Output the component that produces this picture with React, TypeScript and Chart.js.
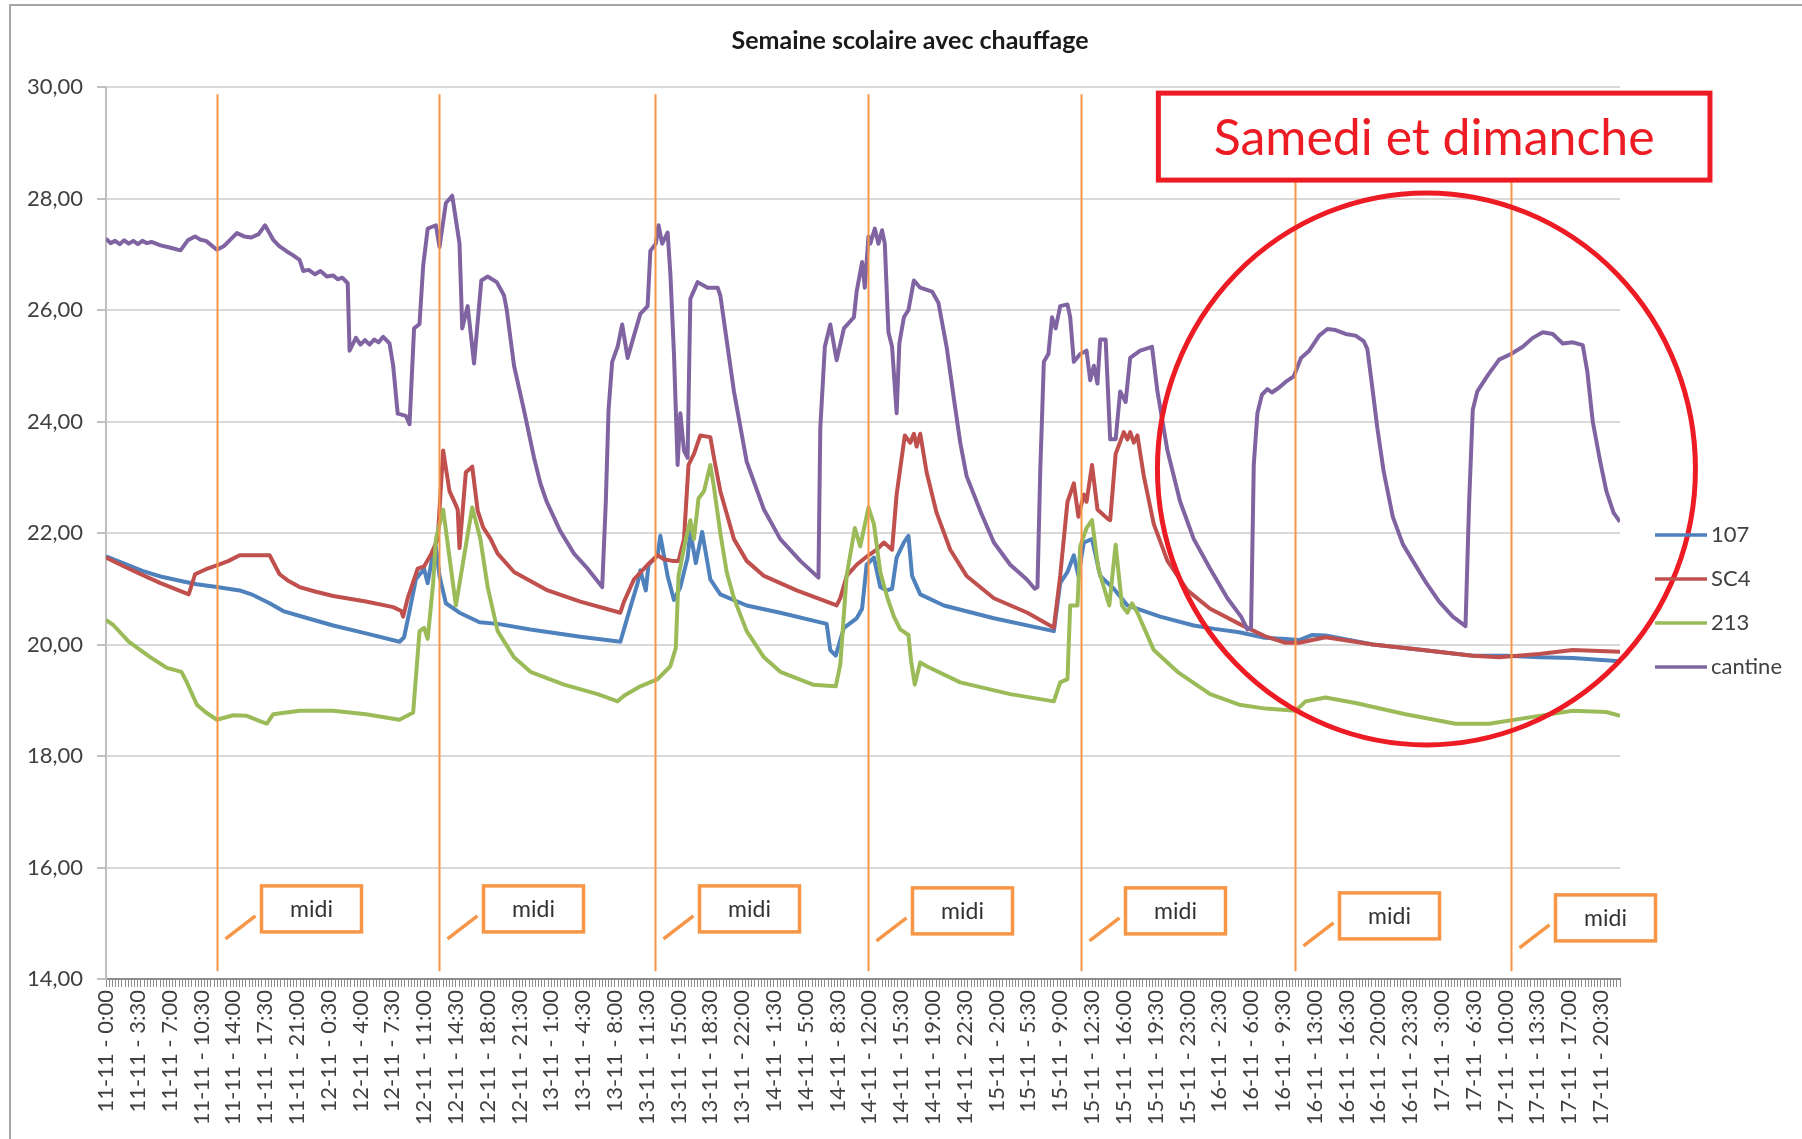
import React, { useEffect, useRef } from "react";
import { Chart, registerables } from "chart.js";

Chart.register(...registerables);

// x tick labels, one every 3h30 starting 11-11 0:00
const tickLabels: string[] = [
  "11-11 - 0:00", "11-11 - 3:30", "11-11 - 7:00", "11-11 - 10:30", "11-11 - 14:00", "11-11 - 17:30", "11-11 - 21:00",
  "12-11 - 0:30", "12-11 - 4:00", "12-11 - 7:30", "12-11 - 11:00", "12-11 - 14:30", "12-11 - 18:00", "12-11 - 21:30",
  "13-11 - 1:00", "13-11 - 4:30", "13-11 - 8:00", "13-11 - 11:30", "13-11 - 15:00", "13-11 - 18:30", "13-11 - 22:00",
  "14-11 - 1:30", "14-11 - 5:00", "14-11 - 8:30", "14-11 - 12:00", "14-11 - 15:30", "14-11 - 19:00", "14-11 - 22:30",
  "15-11 - 2:00", "15-11 - 5:30", "15-11 - 9:00", "15-11 - 12:30", "15-11 - 16:00", "15-11 - 19:30", "15-11 - 23:00",
  "16-11 - 2:30", "16-11 - 6:00", "16-11 - 9:30", "16-11 - 13:00", "16-11 - 16:30", "16-11 - 20:00", "16-11 - 23:30",
  "17-11 - 3:00", "17-11 - 6:30", "17-11 - 10:00", "17-11 - 13:30", "17-11 - 17:00", "17-11 - 20:30",
];

// readings: [hours since 11-11 0:00, temperature °C]
const room107: [number, number][] = [
  [0, 21.58], [2, 21.45], [4, 21.32], [6, 21.22], [8.5, 21.13], [10, 21.08], [12.2, 21.03], [14.7, 20.97], [16, 20.9], [18, 20.74],
  [19.5, 20.6], [22, 20.48], [25, 20.34], [28.6, 20.2], [32.3, 20.05], [32.8, 20.13], [33.4, 20.6], [34.1, 21.17], [35.0, 21.36],
  [35.4, 21.1], [35.9, 21.56], [36.3, 21.76], [36.7, 21.23], [37.4, 20.74], [38.9, 20.57], [41.1, 20.4], [43.1, 20.37], [46.7, 20.27],
  [52.2, 20.14], [56.6, 20.05], [57.4, 20.5], [58.5, 21.1], [58.8, 21.33], [59.4, 20.97], [59.7, 21.43], [60.7, 21.6], [61.0, 21.95],
  [61.8, 21.23], [62.5, 20.8], [63.2, 21.03], [64.0, 21.56], [64.3, 22.02], [64.9, 21.46], [65.6, 22.02], [66.5, 21.17], [67.6, 20.9],
  [70.5, 20.7], [74.2, 20.57], [79.3, 20.37], [79.7, 19.9], [80.3, 19.8], [81.2, 20.3], [82.6, 20.47], [83.2, 20.64], [83.7, 21.43],
  [84.5, 21.56], [85.2, 21.03], [85.9, 20.97], [86.5, 21.0], [87.0, 21.56], [87.8, 21.83], [88.3, 21.95], [88.7, 21.23], [89.6, 20.9],
  [92.2, 20.7], [97.7, 20.47], [104.3, 20.24], [105.0, 21.1], [105.8, 21.3], [106.5, 21.6], [107.0, 21.23], [107.6, 21.83], [108.5, 21.89],
  [109.4, 21.23], [110.9, 21.0], [112.4, 20.7], [116.0, 20.5], [119.7, 20.34], [122, 20.28], [124.7, 20.22], [127.5, 20.12], [129.8, 20.1],
  [131.3, 20.08], [132.7, 20.17], [134.2, 20.16], [139.4, 20.0], [144.9, 19.9], [150.4, 19.8], [154.1, 19.8], [157.7, 19.77], [161.4, 19.76],
  [166.6, 19.7],
];

const roomSC4: [number, number][] = [
  [0, 21.56], [2, 21.4], [4, 21.25], [6, 21.1], [8, 20.97], [9.1, 20.9], [9.8, 21.26], [11, 21.35], [12.2, 21.42], [13.5, 21.5], [14.7, 21.6],
  [18.0, 21.6], [19.1, 21.26], [20, 21.15], [21.3, 21.03], [23, 20.95], [25.0, 20.87], [28.6, 20.77], [31.6, 20.67], [32.5, 20.6], [32.7, 20.5],
  [33.2, 20.83], [34.3, 21.36], [35.0, 21.4], [35.8, 21.63], [36.5, 21.89], [37.1, 23.48], [37.8, 22.75], [38.5, 22.5], [38.7, 22.42],
  [38.9, 21.73], [39.6, 23.09], [40.3, 23.19], [40.9, 22.4], [41.5, 22.1], [42.3, 21.9], [43.1, 21.63], [44.9, 21.3], [48.6, 20.97],
  [52.2, 20.77], [56.6, 20.57], [57.0, 20.77], [58.1, 21.17], [59.6, 21.43], [60.7, 21.6], [61.4, 21.53], [62.3, 21.5], [63.0, 21.5],
  [63.6, 21.89], [64.1, 23.22], [64.7, 23.42], [65.4, 23.75], [66.5, 23.72], [66.9, 23.35], [67.6, 22.75], [69.1, 21.89], [70.5, 21.5],
  [72.4, 21.23], [76.0, 20.97], [80.4, 20.7], [80.8, 20.83], [81.5, 21.23], [82.6, 21.43], [83.9, 21.6], [84.8, 21.7], [85.6, 21.83],
  [86.5, 21.7], [87.0, 22.69], [87.9, 23.75], [88.5, 23.62], [88.9, 23.78], [89.2, 23.55], [89.6, 23.78], [90.3, 23.09], [91.4, 22.36],
  [92.9, 21.7], [94.7, 21.23], [97.7, 20.83], [101.4, 20.57], [104.3, 20.3], [105.0, 21.23], [105.8, 22.56], [106.5, 22.89], [107.0, 22.29],
  [107.6, 22.69], [107.9, 22.56], [108.5, 23.22], [109.1, 22.42], [110.2, 22.26], [110.5, 22.23], [111.1, 23.42], [112.0, 23.81],
  [112.4, 23.68], [112.7, 23.81], [113.1, 23.62], [113.5, 23.75], [114.2, 23.02], [115.3, 22.16], [116.8, 21.5], [119.0, 20.97],
  [121.5, 20.64], [124.7, 20.37], [127.5, 20.15], [129.8, 20.03], [131.3, 20.03], [134.2, 20.13], [139.4, 20.0], [144.9, 19.9],
  [150.4, 19.8], [153.3, 19.77], [157.7, 19.83], [161.4, 19.9], [166.6, 19.87],
];

const room213: [number, number][] = [
  [0, 20.44], [0.8, 20.35], [2.5, 20.05], [4.9, 19.77], [6.7, 19.58], [8.3, 19.51], [8.9, 19.32], [10, 18.92], [11, 18.78], [12.2, 18.65],
  [14, 18.73], [15.5, 18.72], [17.0, 18.62], [17.7, 18.58], [18.4, 18.75], [21.3, 18.81], [25, 18.81], [28.6, 18.75], [32.3, 18.65],
  [33.8, 18.78], [34.5, 20.24], [35.0, 20.3], [35.4, 20.1], [36.0, 21.1], [36.3, 21.89], [37.1, 22.42], [38.5, 20.7], [40.3, 22.46],
  [41.2, 21.89], [42.0, 21.03], [43.1, 20.24], [44.9, 19.77], [46.7, 19.51], [50.4, 19.28], [54.1, 19.11], [56.3, 18.98], [57.0, 19.08],
  [58.8, 19.25], [60.7, 19.38], [62.1, 19.61], [62.7, 19.94], [63.0, 21.23], [63.8, 21.89], [64.3, 22.23], [64.7, 21.89], [65.2, 22.62],
  [65.8, 22.75], [66.5, 23.22], [66.9, 22.82], [67.6, 22.0], [68.3, 21.3], [69.1, 20.83], [70.5, 20.24], [72.4, 19.77], [74.2, 19.51],
  [77.8, 19.28], [80.3, 19.25], [80.8, 19.64], [81.5, 21.23], [82.4, 22.09], [83.0, 21.76], [83.9, 22.46], [84.5, 22.16], [85.2, 21.3],
  [86.0, 20.83], [86.7, 20.5], [87.4, 20.27], [88.3, 20.17], [88.6, 19.7], [89.0, 19.28], [89.6, 19.68], [90.3, 19.61], [94.0, 19.32],
  [99.5, 19.11], [104.3, 18.98], [105.0, 19.32], [105.8, 19.38], [106.1, 20.7], [106.9, 20.7], [107.2, 21.76], [107.9, 22.09],
  [108.5, 22.23], [109.2, 21.36], [110.4, 20.7], [111.1, 21.79], [111.8, 20.7], [112.4, 20.57], [112.9, 20.74], [113.5, 20.57],
  [115.3, 19.9], [117.9, 19.51], [121.5, 19.11], [124.7, 18.92], [127.6, 18.85], [130.9, 18.81], [132.0, 18.98], [134.2, 19.05],
  [137.5, 18.95], [143.0, 18.75], [148.5, 18.58], [152.2, 18.58], [157.7, 18.72], [161.4, 18.81], [165.1, 18.79], [166.6, 18.72],
];

const cantine: [number, number][] = [
  [0, 27.28], [0.5, 27.2], [1, 27.24], [1.5, 27.18], [2, 27.25], [2.5, 27.19], [3, 27.24], [3.5, 27.18], [4, 27.24], [4.5, 27.2],
  [5, 27.22], [6, 27.16], [7, 27.12], [8.2, 27.07], [9, 27.25], [9.8, 27.32], [10.4, 27.26], [11, 27.24], [12.2, 27.08], [13, 27.15],
  [14.4, 27.38], [15.2, 27.32], [16, 27.3], [16.8, 27.36], [17.5, 27.52], [18.4, 27.26], [19.1, 27.14], [19.9, 27.05], [20.6, 26.98],
  [21.3, 26.9], [21.7, 26.7], [22.3, 26.72], [23, 26.64], [23.6, 26.7], [24.3, 26.6], [25.0, 26.62], [25.5, 26.55], [26.0, 26.58],
  [26.6, 26.48], [26.8, 25.27], [27.5, 25.5], [28.0, 25.38], [28.5, 25.46], [29.0, 25.38], [29.5, 25.47], [30.0, 25.42], [30.5, 25.52],
  [31.2, 25.4], [31.6, 25.0], [32.1, 24.14], [33.0, 24.1], [33.4, 23.95], [33.9, 25.67], [34.5, 25.75], [34.9, 26.79], [35.4, 27.46],
  [36.3, 27.52], [36.7, 27.13], [37.4, 27.92], [38.1, 28.05], [38.9, 27.19], [39.2, 25.67], [39.8, 26.07], [40.5, 25.04], [41.3, 26.53],
  [42.0, 26.6], [43.0, 26.5], [43.8, 26.26], [44.1, 26.0], [44.9, 25.0], [46.0, 24.2], [47.1, 23.35], [47.8, 22.89], [48.5, 22.56],
  [50.0, 22.03], [51.5, 21.63], [53.0, 21.36], [54.6, 21.03], [55.0, 22.56], [55.3, 24.21], [55.7, 25.07], [56.3, 25.34], [56.8, 25.74],
  [57.4, 25.14], [58.1, 25.54], [58.8, 25.93], [59.6, 26.07], [59.9, 27.06], [60.5, 27.19], [60.8, 27.52], [61.2, 27.19], [61.8, 27.39],
  [62.1, 26.66], [62.5, 25.21], [62.9, 23.22], [63.2, 24.15], [63.6, 23.48], [64.0, 23.35], [64.3, 26.2], [65.1, 26.5], [66.2, 26.4],
  [67.3, 26.4], [67.6, 26.26], [69.1, 24.54], [70.5, 23.28], [72.4, 22.42], [74.2, 21.89], [76.4, 21.5], [78.4, 21.2], [78.6, 23.88],
  [79.1, 25.34], [79.7, 25.74], [80.4, 25.1], [81.2, 25.67], [82.3, 25.87], [82.6, 26.33], [83.2, 26.86], [83.5, 26.4], [83.9, 27.32],
  [84.1, 27.19], [84.6, 27.46], [85.0, 27.19], [85.4, 27.43], [85.7, 27.19], [86.1, 25.6], [86.5, 25.34], [87.0, 24.15], [87.3, 25.4],
  [87.8, 25.87], [88.3, 26.0], [88.9, 26.53], [89.6, 26.4], [90.9, 26.33], [91.6, 26.13], [92.5, 25.34], [93.3, 24.41], [94.0, 23.62],
  [94.7, 23.02], [95.5, 22.69], [96.3, 22.36], [97.7, 21.83], [99.5, 21.43], [101.3, 21.17], [102.2, 21.0], [102.5, 21.03], [102.8, 23.09],
  [103.2, 25.07], [103.7, 25.21], [104.1, 25.87], [104.5, 25.67], [105.0, 26.07], [105.8, 26.1], [106.1, 25.87], [106.5, 25.07],
  [107.2, 25.21], [107.9, 25.27], [108.3, 24.74], [108.7, 25.0], [109.1, 24.68], [109.4, 25.47], [110.0, 25.47], [110.5, 23.68],
  [111.1, 23.68], [111.6, 24.54], [112.2, 24.35], [112.7, 25.14], [113.8, 25.27], [115.1, 25.34], [115.7, 24.54], [116.8, 23.48],
  [118.2, 22.56], [119.7, 21.89], [121.5, 21.36], [123.4, 20.83], [124.9, 20.5], [125.6, 20.27], [126.0, 20.3], [126.3, 23.22],
  [126.7, 24.15], [127.2, 24.48], [127.8, 24.58], [128.3, 24.52], [129.1, 24.61], [129.8, 24.71], [130.7, 24.81], [131.5, 25.14],
  [132.4, 25.27], [133.5, 25.54], [134.4, 25.66], [135.3, 25.64], [136.4, 25.57], [137.5, 25.54], [138.4, 25.44], [138.8, 25.3],
  [139.4, 24.54], [139.9, 23.88], [140.6, 23.1], [141.6, 22.29], [142.7, 21.8], [143.8, 21.5], [145.3, 21.1], [146.7, 20.77],
  [148.2, 20.5], [149.6, 20.33], [150.0, 22.56], [150.4, 24.21], [150.9, 24.54], [152.1, 24.84], [153.3, 25.11], [154.6, 25.21],
  [155.9, 25.34], [157.0, 25.5], [158.1, 25.6], [159.2, 25.57], [160.3, 25.4], [161.4, 25.42], [162.5, 25.37], [163.0, 24.9],
  [163.6, 24.0], [164.4, 23.3], [165.1, 22.75], [165.9, 22.36], [166.6, 22.2],
];

// hours at which the "midi" markers were drawn
const midiHours: number[] = [12.2, 36.6, 60.4, 83.8, 107.3, 130.8, 154.6];

const X_MAX = 166.6;
const MINOR_STEP = 0.35; // 10 minor ticks per labelled tick (3h30)
const FONT = "Lato";
const ORANGE = "#F79646";
const RED = "#ED1C24";

const seriesDefs = [
  { label: "107", data: room107, color: "#4F81BD" },
  { label: "SC4", data: roomSC4, color: "#C0504D" },
  { label: "213", data: room213, color: "#9BBB59" },
  { label: "cantine", data: cantine, color: "#8064A2" },
];

const overlayPlugin = {
  id: "overlay",
  afterDatasetsDraw(chart: any) {
    const { ctx } = chart;
    const x = chart.scales.x;
    const y = chart.scales.y;
    ctx.save();

    // orange "midi" markers
    const shifts = [0, 0, 0, 2, 2, 7, 9];
    midiHours.forEach((h: number, i: number) => {
      const lx = Math.round(x.getPixelForValue(h)) + 0.5;
      ctx.strokeStyle = ORANGE;
      ctx.lineWidth = 2;
      ctx.beginPath();
      ctx.moveTo(lx, y.getPixelForValue(29.87));
      ctx.lineTo(lx, y.getPixelForValue(14.14));
      ctx.stroke();

      const top = y.getPixelForValue(15.67) + shifts[i];
      const bx = lx + 44;
      ctx.lineWidth = 3.5;
      ctx.fillStyle = "#ffffff";
      ctx.fillRect(bx, top, 100, 46);
      ctx.strokeRect(bx, top, 100, 46);
      ctx.beginPath();
      ctx.moveTo(lx + 8, top + 53);
      ctx.lineTo(lx + 38, top + 30);
      ctx.stroke();
      ctx.fillStyle = "#333333";
      ctx.font = `23px ${FONT}`;
      ctx.textAlign = "center";
      ctx.textBaseline = "middle";
      ctx.fillText("midi", bx + 50, top + 24);
    });

    // weekend highlight
    const cx = x.getPixelForValue(145.3);
    const cy = y.getPixelForValue(23.15);
    ctx.strokeStyle = RED;
    ctx.lineWidth = 5;
    ctx.beginPath();
    ctx.ellipse(cx, cy, 269, 276, 0, 0, Math.PI * 2);
    ctx.stroke();

    const bl = x.getPixelForValue(115.8);
    const br = x.getPixelForValue(176.5);
    const bt = y.getPixelForValue(29.89);
    const bb = y.getPixelForValue(28.33);
    ctx.fillStyle = "#ffffff";
    ctx.fillRect(bl, bt, br - bl, bb - bt);
    ctx.strokeRect(bl, bt, br - bl, bb - bt);
    ctx.fillStyle = RED;
    ctx.font = `50px ${FONT}`;
    ctx.textAlign = "center";
    ctx.textBaseline = "middle";
    ctx.fillText("Samedi et dimanche", (bl + br) / 2, (bt + bb) / 2 + 2);
    ctx.restore();
  },
  afterDraw(chart: any) {
    const { ctx } = chart;
    ctx.save();
    // title
    ctx.fillStyle = "#1a1a1a";
    ctx.font = `bold 25px ${FONT}`;
    ctx.textAlign = "center";
    ctx.textBaseline = "middle";
    ctx.fillText("Semaine scolaire avec chauffage", 910, 41);

    // legend
    chart.data.datasets.forEach((ds: any, i: number) => {
      const ly = 535 + i * 44;
      ctx.strokeStyle = ds.borderColor;
      ctx.lineWidth = 3.5;
      ctx.beginPath();
      ctx.moveTo(1655, ly);
      ctx.lineTo(1707, ly);
      ctx.stroke();
      ctx.fillStyle = "#404040";
      ctx.font = `22px ${FONT}`;
      ctx.textAlign = "left";
      ctx.textBaseline = "middle";
      ctx.fillText(ds.label, 1711, ly);
    });
    ctx.restore();
  },
};

export default function App() {
  const canvasRef = useRef<HTMLCanvasElement | null>(null);

  useEffect(() => {
    if (!canvasRef.current) return;
    const chart = new Chart(canvasRef.current, {
      type: "line",
      data: {
        datasets: seriesDefs.map((s, i) => ({
          label: s.label,
          data: s.data.map(([h, v]) => ({ x: h, y: v })),
          borderColor: s.color,
          backgroundColor: s.color,
          borderWidth: 4,
          pointRadius: 0,
          tension: 0,
          borderJoinStyle: "round" as const,
          order: seriesDefs.length - 1 - i,
        })),
      },
      options: {
        responsive: false,
        animation: false,
        layout: { padding: { left: 10, right: 182, top: 87, bottom: 0 } },
        plugins: {
          legend: { display: false },
          title: { display: false },
          tooltip: { enabled: false },
        },
        scales: {
          x: {
            type: "linear",
            min: 0,
            max: X_MAX,
            afterBuildTicks: (axis: any) => {
              const n = Math.round(X_MAX / MINOR_STEP);
              const ticks = [];
              for (let k = 0; k <= n; k++) ticks.push({ value: Math.round(k * MINOR_STEP * 100) / 100 });
              axis.ticks = ticks;
            },
            afterFit: (axis: any) => {
              axis.height = 160;
            },
            grid: {
              drawOnChartArea: false,
              drawTicks: true,
              tickLength: 8,
              color: "#8c8c8c",
              lineWidth: 1,
            },
            border: { display: true, color: "#8c8c8c", width: 2 },
            ticks: {
              autoSkip: false,
              minRotation: 90,
              maxRotation: 90,
              padding: 3,
              color: "#404040",
              font: { family: FONT, size: 22 },
              callback: (_v: any, index: number) => (index % 10 === 0 ? tickLabels[index / 10] ?? "" : ""),
            },
          },
          y: {
            min: 14,
            max: 30,
            afterFit: (axis: any) => {
              axis.width = 96;
            },
            grid: { color: "#d9d9d9", lineWidth: 2, tickLength: 9, tickColor: "#bfbfbf" },
            border: { display: true, color: "#bfbfbf", width: 2 },
            ticks: {
              stepSize: 2,
              padding: 14,
              color: "#404040",
              font: { family: FONT, size: 22 },
              callback: (v: any) => Number(v).toFixed(2).replace(".", ","),
            },
          },
        },
      },
      plugins: [overlayPlugin],
    });
    return () => chart.destroy();
  }, []);

  return (
    <div style={{ position: "absolute", left: 0, top: 0, width: 1802, height: 1139, overflow: "hidden", background: "#fff" }}>
      <div
        style={{
          position: "absolute",
          left: 9,
          top: 4,
          width: 1900,
          height: 1300,
          border: "2px solid #a6a6a6",
          boxSizing: "border-box",
        }}
      />
      <canvas ref={canvasRef} width={1802} height={1139} style={{ position: "absolute", left: 0, top: 0, display: "block" }} />
    </div>
  );
}
